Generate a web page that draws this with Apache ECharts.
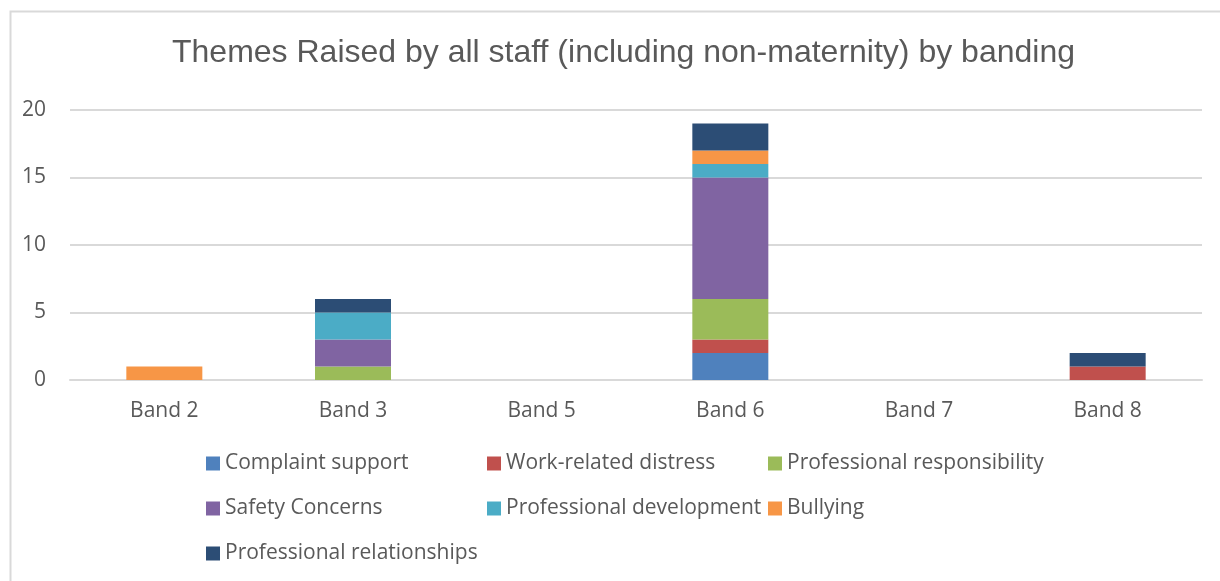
<!DOCTYPE html>
<html><head><meta charset="utf-8">
<script src="https://cdn.jsdelivr.net/npm/echarts@6/dist/echarts.min.js"></script>
<style>html,body{margin:0;padding:0;background:#fff;}#c{width:1220px;height:581px;}</style>
</head><body><div id="c"></div>
<script>
const categories = ['Band 2','Band 3','Band 5','Band 6','Band 7','Band 8'];
const seriesNames = ['Complaint support','Work-related distress','Professional responsibility','Safety Concerns','Professional development','Bullying','Professional relationships'];
const complaintSupport = [0,0,0,2,0,0];
const workRelatedDistress = [0,0,0,1,0,1];
const professionalResponsibility = [0,1,0,3,0,0];
const safetyConcerns = [0,2,0,9,0,0];
const professionalDevelopment = [0,2,0,1,0,0];
const bullying = [1,0,0,1,0,0];
const professionalRelationships = [0,1,0,2,0,1];
const yTicks = [0,5,10,15,20];

const values = [complaintSupport, workRelatedDistress, professionalResponsibility, safetyConcerns, professionalDevelopment, bullying, professionalRelationships];
const colors = ['#4F81BD','#C0504D','#9BBB59','#8064A2','#4BACC6','#F79646','#2C4D75'];
const legendPos = [[201,448],[482,448],[763,448],[201,493],[482,493],[763,493],[201,538]];

const chart = echarts.init(document.getElementById('c'));
chart.setOption({
  animation:false,
  title:{text:'Themes Raised by all staff (including non-maternity) by banding',left:167,top:32,
    textStyle:{fontFamily:'Liberation Sans',fontSize:32,fontWeight:'normal',color:'#595959'}},
  graphic:[{type:'rect',shape:{x:10.5,y:11.5,width:1300,height:700},style:{fill:'none',stroke:'#d9d9d9',lineWidth:2},silent:true}],
  legend: seriesNames.map((n,i)=>({data:[n],left:legendPos[i][0],top:legendPos[i][1],itemWidth:14,itemHeight:14,itemGap:6,
    icon:'rect',textStyle:{fontFamily:'Open Sans',fontSize:21,color:'#595959',padding:[0,0,2,0]}})),
  grid:{left:70,right:18,top:110,bottom:201},
  xAxis:{type:'category',data:categories,axisTick:{show:false},axisLine:{show:true,lineStyle:{color:'#d9d9d9',width:2}},
    axisLabel:{fontFamily:'Open Sans',fontSize:21,color:'#595959',margin:21}},
  yAxis:{type:'value',min:yTicks[0],max:yTicks[yTicks.length-1],interval:5,
    axisLine:{show:false},axisTick:{show:false},
    splitLine:{lineStyle:{color:'#d9d9d9',width:2}},
    axisLabel:{fontFamily:'Open Sans',fontSize:21,color:'#595959',margin:24}},
  series: seriesNames.map((n,i)=>({name:n,type:'bar',stack:'total',data:values[i],barWidth:76,itemStyle:{color:colors[i]}}))
});
</script></body></html>
